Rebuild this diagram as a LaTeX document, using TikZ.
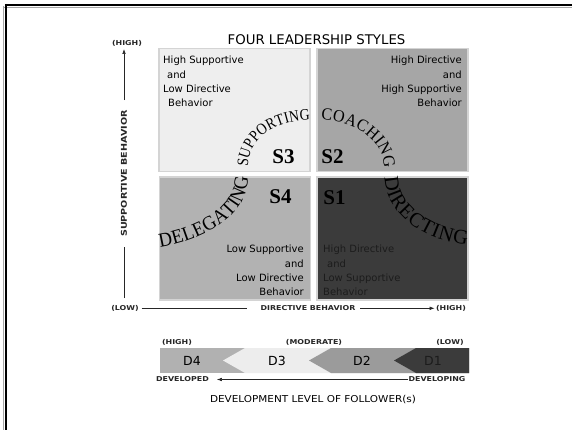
\documentclass[tikz,border=0pt]{standalone}
\usepackage{graphicx}
\usepackage{fontspec}
\setmainfont{DejaVu Sans}
\newfontfamily\serifS{Liberation Serif}
\newfontfamily\curveA[FakeStretch=0.86]{Liberation Serif}
\newfontfamily\curveC[FakeStretch=0.95]{Liberation Serif}
\newfontfamily\curveB[FakeStretch=0.93]{Liberation Serif}
\newfontfamily\curveD{Liberation Serif}
\usetikzlibrary{decorations.text,arrows.meta}
\definecolor{cSthree}{HTML}{EEEEEE}
\definecolor{cStwo}{HTML}{A6A6A6}
\definecolor{cSfour}{HTML}{B2B2B2}
\definecolor{cSone}{HTML}{3B3B3B}
\definecolor{cDfour}{HTML}{B1B1B1}
\definecolor{cDthree}{HTML}{EDEDED}
\definecolor{cDtwo}{HTML}{9B9B9B}
\definecolor{cDone}{HTML}{3B3B3B}
\definecolor{qborder}{HTML}{D4D4D4}
\definecolor{darktext}{HTML}{1C1C1C}
\newcommand\widetxt[1]{\scalebox{1.18}[1]{#1}}
\begin{document}
\begin{tikzpicture}[x=1pt,y=-1pt,
  quad/.style={draw=qborder, line width=1.4pt, minimum width=151pt, minimum height=123pt, inner sep=0pt},
  qtext/.style={font=\fontsize{10}{14.3}\selectfont, inner sep=0pt, text=black},
  slabel/.style={font=\serifS\bfseries\fontsize{21}{21}\selectfont, inner sep=0pt, anchor=base},
  small/.style={font=\bfseries\fontsize{6.7}{8}\selectfont, inner sep=0pt, text=black!85},
  dlabel/.style={font=\fontsize{12.5}{14}\selectfont, inner sep=0pt},
  axisline/.style={line width=0.6pt, draw=black!85},
  tipped/.style={-{Latex[length=5pt,width=3.6pt]}},
]
\useasboundingbox (0,0) rectangle (572,430);
\fill[white] (0,0) rectangle (572,430);
% frame (top and left edges)
\draw[line width=0.7pt, black!35] (4,7) -- (572,7);
\draw[line width=0.7pt, black!35] (3.5,6) -- (3.5,430);
\draw[line width=2pt, black] (5.5,5) -- (572,5) ;
\draw[line width=2pt, black] (5.5,4) -- (5.5,430);

% title
\node[font=\fontsize{13.3}{16}\selectfont, inner sep=0pt] (title) at (316.5,40) {FOUR LEADERSHIP STYLES};

% quadrants
\node[quad, fill=cSthree] (qthree) at (234.5,110) {};
\node[quad, fill=cStwo] (qtwo) at (392.5,110) {};
\node[quad, fill=cSfour] (qfour) at (235,238.5) {};
\node[quad, fill=cSone] (qone) at (392.5,238.5) {};

% quadrant texts
\node[qtext, anchor=north west, align=left] (tthree) at (163,56)
  {High Supportive\\\hspace*{4pt}and\\Low Directive\\\hspace*{5pt}Behavior};
\node[qtext, anchor=north east, align=right] (ttwo) at (462,56)
  {High Directive\\and\hspace*{5pt}\\High Supportive\\Behavior};
\node[qtext, anchor=north east, align=right] (tfour) at (304,245)
  {Low Supportive\\and\hspace*{5pt}\\Low Directive\\Behavior};
\node[qtext, anchor=north west, align=left, text=darktext] (tone) at (323,245)
  {High Directive\\\hspace*{4pt}and\\Low Supportive\\Behavior};

% style labels
\node[slabel] (sthree) at (283.5,163.5) {S3};
\node[slabel] (stwo) at (332.5,163.5) {S2};
\node[slabel] (sfour) at (280.5,203.5) {S4};
\node[slabel] (sone) at (334.5,204.5) {S1};

% curved words along the bell curve
\path[decorate, decoration={text along path, text={|\curveB\fontsize{20}{20}\selectfont|DELEGATING}, text align={fit to path}}]
  (160,247) .. controls (208,239) and (248,214) .. (248,177);
\path[decorate, decoration={text along path, text={|\curveA\fontsize{16}{16}\selectfont|SUPPORTING}, text align={fit to path}}]
  (248,167) .. controls (248,138) and (276,121) .. (310,120);
\path[decorate, decoration={text along path, text={|\curveC\fontsize{17}{17}\selectfont|COACHING}, text align={fit to path}}]
  (321,120) .. controls (355,121) and (384,140) .. (384,168);
\path[decorate, decoration={text along path, text={|\curveD\fontsize{20.5}{20.5}\selectfont|DIRECTING}, text align={fit to path}}]
  (385,177) .. controls (385,212) and (420,240) .. (467,245);

% vertical axis
\node[small] (yhigh) at (127,43.5) {\widetxt{(HIGH)}};
\coordinate (ytip) at (124,49);
\coordinate (ybot) at (124,298);
\node[font=\bfseries\fontsize{8}{9}\selectfont, text=black!85, rotate=90, inner sep=0pt, outer xsep=10pt] (ylab) at (124,173.5)
  {\scalebox{1.2}[1]{SUPPORTIVE BEHAVIOR}};
\draw[axisline] (ybot) -- (ylab);
\draw[axisline, tipped] (ylab) -- (ytip);

% horizontal axis
\node[small, outer xsep=3pt] (xlow) at (125,308.3) {\widetxt{(LOW)}};
\node[small, outer xsep=5pt] (xlab) at (308,308.3) {\widetxt{DIRECTIVE BEHAVIOR}};
\node[small, outer xsep=1.5pt] (xhigh) at (451,308.3) {\widetxt{(HIGH)}};
\coordinate (xlend) at (247,308.3);
\draw[axisline] (xlow) -- (xlend);
\draw[axisline, tipped] (xlab) -- (xhigh);

% development bar
\fill[cDfour] (160,348) rectangle (469,373);
\fill[cDthree] (223,360.5) -- (245,348) -- (469,348) -- (469,373) -- (245,373) -- cycle;
\fill[cDtwo] (309,360.5) -- (331,348) -- (469,348) -- (469,373) -- (331,373) -- cycle;
\fill[cDone] (394,360.5) -- (416,348) -- (469,348) -- (469,373) -- (416,373) -- cycle;

\node[dlabel] (dfour) at (192,361) {D4};
\node[dlabel] (dthree) at (277,361) {D3};
\node[dlabel] (dtwo) at (362,361) {D2};
\node[dlabel, text=darktext] (done) at (433,361) {D1};

\node[small] (bhigh) at (177,342) {\widetxt{(HIGH)}};
\node[small] (bmod) at (314,342) {\widetxt{(MODERATE)}};
\node[small] (blow) at (450,342) {\widetxt{(LOW)}};

\node[small, outer xsep=8pt] (devd) at (182.5,379.5) {\widetxt{DEVELOPED}};
\node[small, outer xsep=0.5pt] (devg) at (437,379.5) {\widetxt{DEVELOPING}};
\draw[axisline, tipped] (devg) -- (devd);

\node[font=\fontsize{9.5}{11}\selectfont, inner sep=0pt] (devlevel) at (313,400)
  {\scalebox{1.1}[1]{DEVELOPMENT LEVEL OF FOLLOWER(s)}};
\end{tikzpicture}
\end{document}
